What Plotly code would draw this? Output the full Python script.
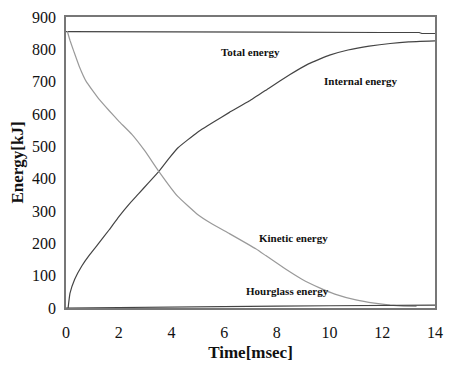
import plotly.graph_objects as go

# Data
t_total = [0, 1.4, 4, 8, 12, 13.4, 13.5, 14]
e_total = [855, 855, 854, 853, 852, 852, 849, 849]

t_kin = [0.05, 0.15, 0.3, 0.5, 0.77, 1.26, 1.64, 2.0, 2.5, 3.0, 3.5, 4.24,
         4.98, 5.5, 6.2, 7.2, 7.58, 8.3, 8.95, 9.6, 10.2, 11.0, 11.7, 12.3, 12.8, 13.3]
e_kin = [856, 828, 793, 748, 700, 645, 610, 578, 537, 485, 425, 345,
         290, 262, 230, 183, 162, 122, 89, 63, 43, 25, 15, 9, 6, 5]

t_int = [0.08, 0.15, 0.33, 0.6, 0.9, 1.26, 1.64, 2.0, 2.38, 2.75, 3.12, 3.5, 3.9,
         4.24, 4.98, 5.6, 6.2, 6.95, 7.7, 8.5, 9.2, 10.0, 10.7, 11.5, 12.3, 13.0, 14.0]
e_int = [0, 45, 89, 130, 165, 202, 242, 282, 320, 353, 386, 420, 462,
         495, 543, 575, 605, 640, 680, 722, 755, 782, 798, 810, 818, 823, 826]

t_hg = [0, 2, 4, 6, 8, 10, 12, 14]
e_hg = [0, 2, 3, 5, 6, 7, 8, 9]

labels = ["Total energy", "Internal energy", "Kinetic energy", "Hourglass energy"]
label_x = [7.0, 11.2, 8.65, 8.4]
label_y = [792, 703, 218, 52]

serif = "Times New Roman, Liberation Serif, serif"

fig = go.Figure()
dark = "#444444"
light = "#9a9a9a"
fig.add_trace(go.Scatter(x=t_total, y=e_total, mode="lines", line=dict(color=dark, width=1.2)))
fig.add_trace(go.Scatter(x=t_int, y=e_int, mode="lines", line=dict(color=dark, width=1.2, shape="spline", smoothing=0.3)))
fig.add_trace(go.Scatter(x=t_kin, y=e_kin, mode="lines", line=dict(color=light, width=1.2, shape="spline", smoothing=0.3)))
fig.add_trace(go.Scatter(x=t_hg, y=e_hg, mode="lines", line=dict(color=dark, width=1.2)))

for txt, x, y in zip(labels, label_x, label_y):
    fig.add_annotation(x=x, y=y, text="<b>" + txt + "</b>", showarrow=False,
                       font=dict(family=serif, size=11, color="#111111"))

fig.update_layout(
    width=452, height=368,
    margin=dict(l=66, r=9, t=15, b=59),
    paper_bgcolor="white", plot_bgcolor="white",
    showlegend=False,
    font=dict(family=serif, color="#111111"),
)
fig.update_xaxes(
    range=[0, 14], tickvals=[0, 2, 4, 6, 8, 10, 12, 14],
    showgrid=False, zeroline=False, showline=True, mirror=True,
    linecolor="#777777", linewidth=1.5, ticks="", ticklabelstandoff=9,
    tickfont=dict(family=serif, size=16, color="#111111"),
    title=dict(text="<b>Time[msec]</b>", font=dict(family=serif, size=17, color="#111111"), standoff=6),
)
fig.update_yaxes(
    range=[0, 900], tickvals=list(range(0, 901, 100)),
    showgrid=False, zeroline=False, showline=True, mirror=True,
    linecolor="#777777", linewidth=1.5, ticks="", ticklabelstandoff=5,
    tickfont=dict(family=serif, size=16, color="#111111"),
    title=dict(text="<b>Energy[kJ]</b>", font=dict(family=serif, size=17, color="#111111"), standoff=4),
)

fig.write_html("out.html")
